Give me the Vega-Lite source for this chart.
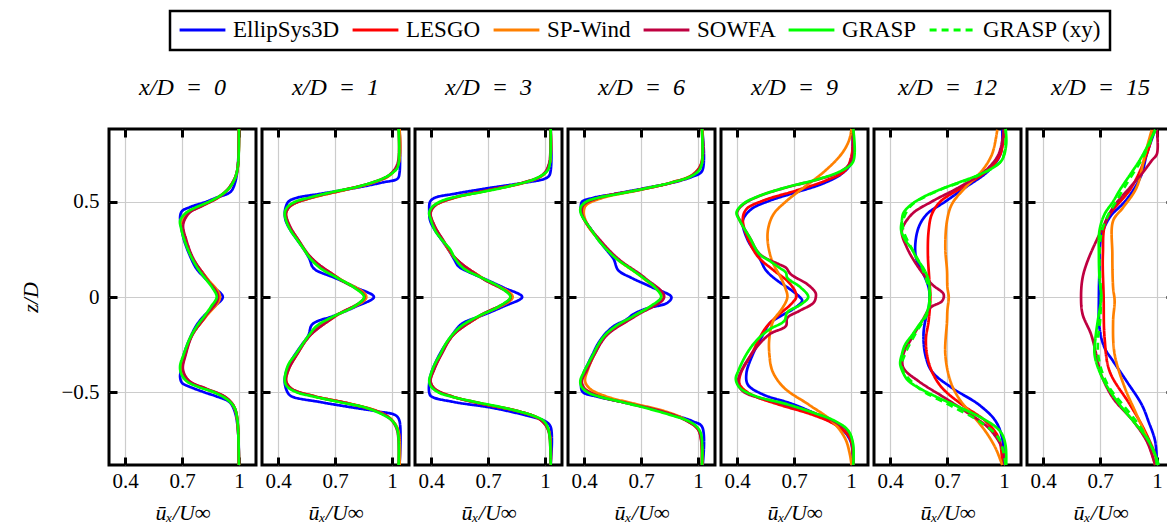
{
"$schema":"https://vega.github.io/schema/vega-lite/v6.json",
"background":"white",
"padding":{"left":18,"top":9,"right":0,"bottom":0},
"config":{
 "font":"Liberation Serif",
 "view":{"stroke":"black","strokeWidth":3},
 "axis":{"labelFont":"Liberation Serif","labelFontSize":21,"labelColor":"black","titleFont":"Liberation Serif","titleFontSize":22,"titleFontStyle":"italic","titleFontWeight":"normal","titleColor":"black","gridColor":"#cccccc","gridWidth":1.2,"domain":false,"tickColor":"black","tickWidth":3,"tickSize":-8,"labelPadding":18},
 "title":{"font":"Liberation Serif","fontSize":24,"fontStyle":"italic","fontWeight":"normal","color":"black","anchor":"middle","offset":24,"baseline":"alphabetic"},
 "legend":{"labelFont":"Liberation Serif","labelFontSize":23,"labelColor":"black"}
},
"spacing":0,
"resolve":{"scale":{"color":"shared","strokeDash":"shared"}},
"data":{"values":[
{"p":0,"m":"E","z":0.88,"u":1},{"p":0,"m":"E","z":0.7,"u":0.995},{"p":0,"m":"E","z":0.6,"u":0.98},{"p":0,"m":"E","z":0.55,"u":0.955},{"p":0,"m":"E","z":0.52,"u":0.88},{"p":0,"m":"E","z":0.5,"u":0.83},{"p":0,"m":"E","z":0.47,"u":0.74},{"p":0,"m":"E","z":0.45,"u":0.7},{"p":0,"m":"E","z":0.42,"u":0.69},{"p":0,"m":"E","z":0.36,"u":0.697},{"p":0,"m":"E","z":0.3,"u":0.71},{"p":0,"m":"E","z":0.22,"u":0.74},{"p":0,"m":"E","z":0.15,"u":0.775},{"p":0,"m":"E","z":0.1,"u":0.82},{"p":0,"m":"E","z":0.05,"u":0.87},{"p":0,"m":"E","z":0,"u":0.915},{"p":0,"m":"E","z":-0.05,"u":0.87},{"p":0,"m":"E","z":-0.1,"u":0.815},{"p":0,"m":"E","z":-0.15,"u":0.775},{"p":0,"m":"E","z":-0.22,"u":0.74},{"p":0,"m":"E","z":-0.3,"u":0.71},{"p":0,"m":"E","z":-0.38,"u":0.695},{"p":0,"m":"E","z":-0.42,"u":0.69},{"p":0,"m":"E","z":-0.45,"u":0.7},{"p":0,"m":"E","z":-0.47,"u":0.74},{"p":0,"m":"E","z":-0.5,"u":0.82},{"p":0,"m":"E","z":-0.52,"u":0.88},{"p":0,"m":"E","z":-0.55,"u":0.95},{"p":0,"m":"E","z":-0.6,"u":0.978},{"p":0,"m":"E","z":-0.7,"u":0.995},{"p":0,"m":"E","z":-0.88,"u":1},
{"p":0,"m":"L","z":0.88,"u":1},{"p":0,"m":"L","z":0.7,"u":0.996},{"p":0,"m":"L","z":0.64,"u":0.986},{"p":0,"m":"L","z":0.6,"u":0.968},{"p":0,"m":"L","z":0.56,"u":0.94},{"p":0,"m":"L","z":0.52,"u":0.89},{"p":0,"m":"L","z":0.48,"u":0.81},{"p":0,"m":"L","z":0.44,"u":0.735},{"p":0,"m":"L","z":0.38,"u":0.703},{"p":0,"m":"L","z":0.3,"u":0.72},{"p":0,"m":"L","z":0.2,"u":0.758},{"p":0,"m":"L","z":0.1,"u":0.828},{"p":0,"m":"L","z":0,"u":0.895},{"p":0,"m":"L","z":-0.1,"u":0.826},{"p":0,"m":"L","z":-0.2,"u":0.752},{"p":0,"m":"L","z":-0.3,"u":0.717},{"p":0,"m":"L","z":-0.38,"u":0.702},{"p":0,"m":"L","z":-0.44,"u":0.735},{"p":0,"m":"L","z":-0.48,"u":0.825},{"p":0,"m":"L","z":-0.52,"u":0.92},{"p":0,"m":"L","z":-0.56,"u":0.965},{"p":0,"m":"L","z":-0.6,"u":0.984},{"p":0,"m":"L","z":-0.64,"u":0.991},{"p":0,"m":"L","z":-0.7,"u":0.996},{"p":0,"m":"L","z":-0.88,"u":1},
{"p":0,"m":"S","z":0.88,"u":1},{"p":0,"m":"S","z":0.7,"u":0.996},{"p":0,"m":"S","z":0.64,"u":0.986},{"p":0,"m":"S","z":0.6,"u":0.967},{"p":0,"m":"S","z":0.56,"u":0.938},{"p":0,"m":"S","z":0.52,"u":0.886},{"p":0,"m":"S","z":0.48,"u":0.805},{"p":0,"m":"S","z":0.44,"u":0.73},{"p":0,"m":"S","z":0.38,"u":0.7},{"p":0,"m":"S","z":0.3,"u":0.718},{"p":0,"m":"S","z":0.2,"u":0.756},{"p":0,"m":"S","z":0.1,"u":0.83},{"p":0,"m":"S","z":0,"u":0.9},{"p":0,"m":"S","z":-0.1,"u":0.828},{"p":0,"m":"S","z":-0.2,"u":0.752},{"p":0,"m":"S","z":-0.3,"u":0.715},{"p":0,"m":"S","z":-0.38,"u":0.7},{"p":0,"m":"S","z":-0.44,"u":0.73},{"p":0,"m":"S","z":-0.48,"u":0.82},{"p":0,"m":"S","z":-0.52,"u":0.918},{"p":0,"m":"S","z":-0.56,"u":0.964},{"p":0,"m":"S","z":-0.6,"u":0.983},{"p":0,"m":"S","z":-0.64,"u":0.99},{"p":0,"m":"S","z":-0.7,"u":0.996},{"p":0,"m":"S","z":-0.88,"u":1},
{"p":0,"m":"W","z":0.88,"u":1},{"p":0,"m":"W","z":0.7,"u":0.996},{"p":0,"m":"W","z":0.64,"u":0.985},{"p":0,"m":"W","z":0.6,"u":0.966},{"p":0,"m":"W","z":0.56,"u":0.937},{"p":0,"m":"W","z":0.52,"u":0.888},{"p":0,"m":"W","z":0.48,"u":0.812},{"p":0,"m":"W","z":0.44,"u":0.738},{"p":0,"m":"W","z":0.38,"u":0.706},{"p":0,"m":"W","z":0.3,"u":0.722},{"p":0,"m":"W","z":0.2,"u":0.76},{"p":0,"m":"W","z":0.1,"u":0.826},{"p":0,"m":"W","z":0,"u":0.89},{"p":0,"m":"W","z":-0.1,"u":0.824},{"p":0,"m":"W","z":-0.2,"u":0.754},{"p":0,"m":"W","z":-0.3,"u":0.72},{"p":0,"m":"W","z":-0.38,"u":0.705},{"p":0,"m":"W","z":-0.44,"u":0.738},{"p":0,"m":"W","z":-0.48,"u":0.828},{"p":0,"m":"W","z":-0.52,"u":0.922},{"p":0,"m":"W","z":-0.56,"u":0.966},{"p":0,"m":"W","z":-0.6,"u":0.984},{"p":0,"m":"W","z":-0.64,"u":0.991},{"p":0,"m":"W","z":-0.7,"u":0.996},{"p":0,"m":"W","z":-0.88,"u":1},
{"p":0,"m":"G","z":0.88,"u":1},{"p":0,"m":"G","z":0.7,"u":0.996},{"p":0,"m":"G","z":0.63,"u":0.982},{"p":0,"m":"G","z":0.58,"u":0.956},{"p":0,"m":"G","z":0.54,"u":0.915},{"p":0,"m":"G","z":0.5,"u":0.845},{"p":0,"m":"G","z":0.47,"u":0.774},{"p":0,"m":"G","z":0.44,"u":0.72},{"p":0,"m":"G","z":0.4,"u":0.69},{"p":0,"m":"G","z":0.36,"u":0.695},{"p":0,"m":"G","z":0.3,"u":0.712},{"p":0,"m":"G","z":0.22,"u":0.744},{"p":0,"m":"G","z":0.15,"u":0.783},{"p":0,"m":"G","z":0.1,"u":0.82},{"p":0,"m":"G","z":0.05,"u":0.859},{"p":0,"m":"G","z":0,"u":0.883},{"p":0,"m":"G","z":-0.05,"u":0.853},{"p":0,"m":"G","z":-0.1,"u":0.818},{"p":0,"m":"G","z":-0.15,"u":0.78},{"p":0,"m":"G","z":-0.22,"u":0.74},{"p":0,"m":"G","z":-0.3,"u":0.709},{"p":0,"m":"G","z":-0.36,"u":0.69},{"p":0,"m":"G","z":-0.4,"u":0.695},{"p":0,"m":"G","z":-0.44,"u":0.723},{"p":0,"m":"G","z":-0.47,"u":0.783},{"p":0,"m":"G","z":-0.5,"u":0.871},{"p":0,"m":"G","z":-0.54,"u":0.942},{"p":0,"m":"G","z":-0.58,"u":0.977},{"p":0,"m":"G","z":-0.63,"u":0.99},{"p":0,"m":"G","z":-0.7,"u":0.996},{"p":0,"m":"G","z":-0.88,"u":1},

{"p":1,"m":"E","z":0.88,"u":1.04},{"p":1,"m":"E","z":0.65,"u":1.04},{"p":1,"m":"E","z":0.62,"u":1.03},{"p":1,"m":"E","z":0.6,"u":0.95},{"p":1,"m":"E","z":0.57,"u":0.8},{"p":1,"m":"E","z":0.54,"u":0.62},{"p":1,"m":"E","z":0.52,"u":0.5},{"p":1,"m":"E","z":0.5,"u":0.455},{"p":1,"m":"E","z":0.47,"u":0.44},{"p":1,"m":"E","z":0.44,"u":0.435},{"p":1,"m":"E","z":0.4,"u":0.44},{"p":1,"m":"E","z":0.35,"u":0.465},{"p":1,"m":"E","z":0.3,"u":0.5},{"p":1,"m":"E","z":0.25,"u":0.535},{"p":1,"m":"E","z":0.2,"u":0.565},{"p":1,"m":"E","z":0.16,"u":0.58},{"p":1,"m":"E","z":0.14,"u":0.6},{"p":1,"m":"E","z":0.1,"u":0.7},{"p":1,"m":"E","z":0.05,"u":0.81},{"p":1,"m":"E","z":0,"u":0.905},{"p":1,"m":"E","z":-0.05,"u":0.81},{"p":1,"m":"E","z":-0.1,"u":0.69},{"p":1,"m":"E","z":-0.13,"u":0.6},{"p":1,"m":"E","z":-0.15,"u":0.575},{"p":1,"m":"E","z":-0.2,"u":0.56},{"p":1,"m":"E","z":-0.25,"u":0.525},{"p":1,"m":"E","z":-0.3,"u":0.49},{"p":1,"m":"E","z":-0.35,"u":0.46},{"p":1,"m":"E","z":-0.4,"u":0.44},{"p":1,"m":"E","z":-0.45,"u":0.435},{"p":1,"m":"E","z":-0.5,"u":0.45},{"p":1,"m":"E","z":-0.52,"u":0.47},{"p":1,"m":"E","z":-0.55,"u":0.62},{"p":1,"m":"E","z":-0.58,"u":0.8},{"p":1,"m":"E","z":-0.6,"u":0.93},{"p":1,"m":"E","z":-0.62,"u":1.02},{"p":1,"m":"E","z":-0.65,"u":1.04},{"p":1,"m":"E","z":-0.88,"u":1.04},
{"p":1,"m":"L","z":0.88,"u":1.04},{"p":1,"m":"L","z":0.7,"u":1.035},{"p":1,"m":"L","z":0.64,"u":0.99},{"p":1,"m":"L","z":0.6,"u":0.9},{"p":1,"m":"L","z":0.56,"u":0.745},{"p":1,"m":"L","z":0.52,"u":0.575},{"p":1,"m":"L","z":0.48,"u":0.468},{"p":1,"m":"L","z":0.44,"u":0.44},{"p":1,"m":"L","z":0.38,"u":0.455},{"p":1,"m":"L","z":0.3,"u":0.505},{"p":1,"m":"L","z":0.2,"u":0.578},{"p":1,"m":"L","z":0.1,"u":0.716},{"p":1,"m":"L","z":0,"u":0.86},{"p":1,"m":"L","z":-0.1,"u":0.7},{"p":1,"m":"L","z":-0.2,"u":0.568},{"p":1,"m":"L","z":-0.3,"u":0.498},{"p":1,"m":"L","z":-0.38,"u":0.452},{"p":1,"m":"L","z":-0.44,"u":0.44},{"p":1,"m":"L","z":-0.48,"u":0.468},{"p":1,"m":"L","z":-0.52,"u":0.59},{"p":1,"m":"L","z":-0.56,"u":0.78},{"p":1,"m":"L","z":-0.6,"u":0.925},{"p":1,"m":"L","z":-0.64,"u":0.995},{"p":1,"m":"L","z":-0.7,"u":1.033},{"p":1,"m":"L","z":-0.88,"u":1.04},
{"p":1,"m":"S","z":0.88,"u":1.04},{"p":1,"m":"S","z":0.7,"u":1.035},{"p":1,"m":"S","z":0.64,"u":0.992},{"p":1,"m":"S","z":0.6,"u":0.905},{"p":1,"m":"S","z":0.56,"u":0.75},{"p":1,"m":"S","z":0.52,"u":0.578},{"p":1,"m":"S","z":0.48,"u":0.47},{"p":1,"m":"S","z":0.44,"u":0.442},{"p":1,"m":"S","z":0.38,"u":0.456},{"p":1,"m":"S","z":0.3,"u":0.504},{"p":1,"m":"S","z":0.2,"u":0.576},{"p":1,"m":"S","z":0.1,"u":0.716},{"p":1,"m":"S","z":0,"u":0.865},{"p":1,"m":"S","z":-0.1,"u":0.703},{"p":1,"m":"S","z":-0.2,"u":0.568},{"p":1,"m":"S","z":-0.3,"u":0.5},{"p":1,"m":"S","z":-0.38,"u":0.455},{"p":1,"m":"S","z":-0.44,"u":0.443},{"p":1,"m":"S","z":-0.48,"u":0.47},{"p":1,"m":"S","z":-0.52,"u":0.595},{"p":1,"m":"S","z":-0.56,"u":0.785},{"p":1,"m":"S","z":-0.6,"u":0.928},{"p":1,"m":"S","z":-0.64,"u":0.995},{"p":1,"m":"S","z":-0.7,"u":1.033},{"p":1,"m":"S","z":-0.88,"u":1.04},
{"p":1,"m":"W","z":0.88,"u":1.035},{"p":1,"m":"W","z":0.7,"u":1.03},{"p":1,"m":"W","z":0.64,"u":0.988},{"p":1,"m":"W","z":0.6,"u":0.898},{"p":1,"m":"W","z":0.56,"u":0.742},{"p":1,"m":"W","z":0.52,"u":0.572},{"p":1,"m":"W","z":0.48,"u":0.468},{"p":1,"m":"W","z":0.44,"u":0.442},{"p":1,"m":"W","z":0.38,"u":0.458},{"p":1,"m":"W","z":0.3,"u":0.506},{"p":1,"m":"W","z":0.2,"u":0.58},{"p":1,"m":"W","z":0.1,"u":0.714},{"p":1,"m":"W","z":0,"u":0.855},{"p":1,"m":"W","z":-0.1,"u":0.702},{"p":1,"m":"W","z":-0.2,"u":0.57},{"p":1,"m":"W","z":-0.3,"u":0.5},{"p":1,"m":"W","z":-0.38,"u":0.455},{"p":1,"m":"W","z":-0.44,"u":0.442},{"p":1,"m":"W","z":-0.48,"u":0.47},{"p":1,"m":"W","z":-0.52,"u":0.592},{"p":1,"m":"W","z":-0.56,"u":0.78},{"p":1,"m":"W","z":-0.6,"u":0.924},{"p":1,"m":"W","z":-0.64,"u":0.993},{"p":1,"m":"W","z":-0.7,"u":1.028},{"p":1,"m":"W","z":-0.88,"u":1.035},
{"p":1,"m":"G","z":0.88,"u":1.035},{"p":1,"m":"G","z":0.75,"u":1.038},{"p":1,"m":"G","z":0.68,"u":1.03},{"p":1,"m":"G","z":0.65,"u":1.003},{"p":1,"m":"G","z":0.62,"u":0.95},{"p":1,"m":"G","z":0.58,"u":0.827},{"p":1,"m":"G","z":0.55,"u":0.686},{"p":1,"m":"G","z":0.52,"u":0.562},{"p":1,"m":"G","z":0.5,"u":0.492},{"p":1,"m":"G","z":0.47,"u":0.448},{"p":1,"m":"G","z":0.44,"u":0.435},{"p":1,"m":"G","z":0.4,"u":0.442},{"p":1,"m":"G","z":0.35,"u":0.465},{"p":1,"m":"G","z":0.3,"u":0.5},{"p":1,"m":"G","z":0.25,"u":0.536},{"p":1,"m":"G","z":0.2,"u":0.571},{"p":1,"m":"G","z":0.15,"u":0.624},{"p":1,"m":"G","z":0.1,"u":0.712},{"p":1,"m":"G","z":0.05,"u":0.8},{"p":1,"m":"G","z":0,"u":0.853},{"p":1,"m":"G","z":-0.05,"u":0.8},{"p":1,"m":"G","z":-0.1,"u":0.695},{"p":1,"m":"G","z":-0.15,"u":0.606},{"p":1,"m":"G","z":-0.2,"u":0.562},{"p":1,"m":"G","z":-0.25,"u":0.527},{"p":1,"m":"G","z":-0.3,"u":0.492},{"p":1,"m":"G","z":-0.35,"u":0.456},{"p":1,"m":"G","z":-0.4,"u":0.439},{"p":1,"m":"G","z":-0.44,"u":0.435},{"p":1,"m":"G","z":-0.47,"u":0.448},{"p":1,"m":"G","z":-0.5,"u":0.5},{"p":1,"m":"G","z":-0.52,"u":0.58},{"p":1,"m":"G","z":-0.55,"u":0.72},{"p":1,"m":"G","z":-0.58,"u":0.862},{"p":1,"m":"G","z":-0.62,"u":0.959},{"p":1,"m":"G","z":-0.65,"u":1.003},{"p":1,"m":"G","z":-0.7,"u":1.03},{"p":1,"m":"G","z":-0.88,"u":1.035},

{"p":3,"m":"E","z":0.88,"u":1.03},{"p":3,"m":"E","z":0.64,"u":1.025},{"p":3,"m":"E","z":0.62,"u":1.0},{"p":3,"m":"E","z":0.6,"u":0.9},{"p":3,"m":"E","z":0.57,"u":0.7},{"p":3,"m":"E","z":0.54,"u":0.52},{"p":3,"m":"E","z":0.52,"u":0.42},{"p":3,"m":"E","z":0.5,"u":0.395},{"p":3,"m":"E","z":0.45,"u":0.39},{"p":3,"m":"E","z":0.4,"u":0.395},{"p":3,"m":"E","z":0.35,"u":0.42},{"p":3,"m":"E","z":0.3,"u":0.455},{"p":3,"m":"E","z":0.25,"u":0.49},{"p":3,"m":"E","z":0.2,"u":0.52},{"p":3,"m":"E","z":0.16,"u":0.545},{"p":3,"m":"E","z":0.13,"u":0.6},{"p":3,"m":"E","z":0.1,"u":0.67},{"p":3,"m":"E","z":0.05,"u":0.78},{"p":3,"m":"E","z":0,"u":0.88},{"p":3,"m":"E","z":-0.05,"u":0.78},{"p":3,"m":"E","z":-0.1,"u":0.66},{"p":3,"m":"E","z":-0.13,"u":0.58},{"p":3,"m":"E","z":-0.15,"u":0.55},{"p":3,"m":"E","z":-0.2,"u":0.51},{"p":3,"m":"E","z":-0.25,"u":0.475},{"p":3,"m":"E","z":-0.3,"u":0.445},{"p":3,"m":"E","z":-0.35,"u":0.42},{"p":3,"m":"E","z":-0.4,"u":0.4},{"p":3,"m":"E","z":-0.45,"u":0.39},{"p":3,"m":"E","z":-0.5,"u":0.39},{"p":3,"m":"E","z":-0.52,"u":0.4},{"p":3,"m":"E","z":-0.55,"u":0.52},{"p":3,"m":"E","z":-0.58,"u":0.72},{"p":3,"m":"E","z":-0.62,"u":0.9},{"p":3,"m":"E","z":-0.65,"u":1.0},{"p":3,"m":"E","z":-0.68,"u":1.03},{"p":3,"m":"E","z":-0.88,"u":1.03},
{"p":3,"m":"L","z":0.88,"u":1.03},{"p":3,"m":"L","z":0.7,"u":1.025},{"p":3,"m":"L","z":0.64,"u":0.99},{"p":3,"m":"L","z":0.6,"u":0.89},{"p":3,"m":"L","z":0.56,"u":0.705},{"p":3,"m":"L","z":0.52,"u":0.52},{"p":3,"m":"L","z":0.48,"u":0.42},{"p":3,"m":"L","z":0.44,"u":0.395},{"p":3,"m":"L","z":0.38,"u":0.413},{"p":3,"m":"L","z":0.3,"u":0.46},{"p":3,"m":"L","z":0.2,"u":0.53},{"p":3,"m":"L","z":0.1,"u":0.668},{"p":3,"m":"L","z":0,"u":0.825},{"p":3,"m":"L","z":-0.1,"u":0.655},{"p":3,"m":"L","z":-0.2,"u":0.514},{"p":3,"m":"L","z":-0.3,"u":0.452},{"p":3,"m":"L","z":-0.38,"u":0.414},{"p":3,"m":"L","z":-0.44,"u":0.395},{"p":3,"m":"L","z":-0.48,"u":0.415},{"p":3,"m":"L","z":-0.52,"u":0.505},{"p":3,"m":"L","z":-0.56,"u":0.67},{"p":3,"m":"L","z":-0.6,"u":0.865},{"p":3,"m":"L","z":-0.64,"u":0.972},{"p":3,"m":"L","z":-0.7,"u":1.02},{"p":3,"m":"L","z":-0.88,"u":1.03},
{"p":3,"m":"S","z":0.88,"u":1.03},{"p":3,"m":"S","z":0.7,"u":1.025},{"p":3,"m":"S","z":0.64,"u":0.992},{"p":3,"m":"S","z":0.6,"u":0.895},{"p":3,"m":"S","z":0.56,"u":0.71},{"p":3,"m":"S","z":0.52,"u":0.525},{"p":3,"m":"S","z":0.48,"u":0.423},{"p":3,"m":"S","z":0.44,"u":0.397},{"p":3,"m":"S","z":0.38,"u":0.413},{"p":3,"m":"S","z":0.3,"u":0.46},{"p":3,"m":"S","z":0.2,"u":0.53},{"p":3,"m":"S","z":0.1,"u":0.67},{"p":3,"m":"S","z":0,"u":0.83},{"p":3,"m":"S","z":-0.1,"u":0.657},{"p":3,"m":"S","z":-0.2,"u":0.515},{"p":3,"m":"S","z":-0.3,"u":0.452},{"p":3,"m":"S","z":-0.38,"u":0.414},{"p":3,"m":"S","z":-0.44,"u":0.397},{"p":3,"m":"S","z":-0.48,"u":0.418},{"p":3,"m":"S","z":-0.52,"u":0.51},{"p":3,"m":"S","z":-0.56,"u":0.675},{"p":3,"m":"S","z":-0.6,"u":0.868},{"p":3,"m":"S","z":-0.64,"u":0.973},{"p":3,"m":"S","z":-0.7,"u":1.02},{"p":3,"m":"S","z":-0.88,"u":1.03},
{"p":3,"m":"W","z":0.88,"u":1.028},{"p":3,"m":"W","z":0.7,"u":1.022},{"p":3,"m":"W","z":0.64,"u":0.988},{"p":3,"m":"W","z":0.6,"u":0.888},{"p":3,"m":"W","z":0.56,"u":0.703},{"p":3,"m":"W","z":0.52,"u":0.52},{"p":3,"m":"W","z":0.48,"u":0.422},{"p":3,"m":"W","z":0.44,"u":0.397},{"p":3,"m":"W","z":0.38,"u":0.415},{"p":3,"m":"W","z":0.3,"u":0.462},{"p":3,"m":"W","z":0.2,"u":0.532},{"p":3,"m":"W","z":0.1,"u":0.666},{"p":3,"m":"W","z":0,"u":0.82},{"p":3,"m":"W","z":-0.1,"u":0.654},{"p":3,"m":"W","z":-0.2,"u":0.516},{"p":3,"m":"W","z":-0.3,"u":0.455},{"p":3,"m":"W","z":-0.38,"u":0.416},{"p":3,"m":"W","z":-0.44,"u":0.397},{"p":3,"m":"W","z":-0.48,"u":0.418},{"p":3,"m":"W","z":-0.52,"u":0.508},{"p":3,"m":"W","z":-0.56,"u":0.672},{"p":3,"m":"W","z":-0.6,"u":0.866},{"p":3,"m":"W","z":-0.64,"u":0.972},{"p":3,"m":"W","z":-0.7,"u":1.018},{"p":3,"m":"W","z":-0.88,"u":1.028},
{"p":3,"m":"G","z":0.88,"u":1.03},{"p":3,"m":"G","z":0.7,"u":1.026},{"p":3,"m":"G","z":0.66,"u":1.012},{"p":3,"m":"G","z":0.62,"u":0.95},{"p":3,"m":"G","z":0.58,"u":0.81},{"p":3,"m":"G","z":0.55,"u":0.668},{"p":3,"m":"G","z":0.52,"u":0.51},{"p":3,"m":"G","z":0.5,"u":0.448},{"p":3,"m":"G","z":0.47,"u":0.404},{"p":3,"m":"G","z":0.44,"u":0.39},{"p":3,"m":"G","z":0.4,"u":0.4},{"p":3,"m":"G","z":0.35,"u":0.42},{"p":3,"m":"G","z":0.3,"u":0.456},{"p":3,"m":"G","z":0.25,"u":0.5},{"p":3,"m":"G","z":0.2,"u":0.527},{"p":3,"m":"G","z":0.15,"u":0.571},{"p":3,"m":"G","z":0.1,"u":0.668},{"p":3,"m":"G","z":0.05,"u":0.765},{"p":3,"m":"G","z":0,"u":0.818},{"p":3,"m":"G","z":-0.05,"u":0.756},{"p":3,"m":"G","z":-0.1,"u":0.65},{"p":3,"m":"G","z":-0.15,"u":0.562},{"p":3,"m":"G","z":-0.2,"u":0.51},{"p":3,"m":"G","z":-0.25,"u":0.474},{"p":3,"m":"G","z":-0.3,"u":0.448},{"p":3,"m":"G","z":-0.35,"u":0.42},{"p":3,"m":"G","z":-0.4,"u":0.4},{"p":3,"m":"G","z":-0.44,"u":0.39},{"p":3,"m":"G","z":-0.47,"u":0.4},{"p":3,"m":"G","z":-0.5,"u":0.439},{"p":3,"m":"G","z":-0.52,"u":0.5},{"p":3,"m":"G","z":-0.55,"u":0.633},{"p":3,"m":"G","z":-0.58,"u":0.783},{"p":3,"m":"G","z":-0.62,"u":0.933},{"p":3,"m":"G","z":-0.65,"u":0.994},{"p":3,"m":"G","z":-0.7,"u":1.02},{"p":3,"m":"G","z":-0.88,"u":1.03},

{"p":6,"m":"E","z":0.88,"u":1.022},{"p":6,"m":"E","z":0.66,"u":1.022},{"p":6,"m":"E","z":0.63,"u":0.97},{"p":6,"m":"E","z":0.6,"u":0.87},{"p":6,"m":"E","z":0.57,"u":0.72},{"p":6,"m":"E","z":0.54,"u":0.56},{"p":6,"m":"E","z":0.52,"u":0.45},{"p":6,"m":"E","z":0.5,"u":0.39},{"p":6,"m":"E","z":0.48,"u":0.383},{"p":6,"m":"E","z":0.44,"u":0.385},{"p":6,"m":"E","z":0.4,"u":0.405},{"p":6,"m":"E","z":0.35,"u":0.44},{"p":6,"m":"E","z":0.3,"u":0.475},{"p":6,"m":"E","z":0.25,"u":0.515},{"p":6,"m":"E","z":0.2,"u":0.555},{"p":6,"m":"E","z":0.14,"u":0.58},{"p":6,"m":"E","z":0.1,"u":0.65},{"p":6,"m":"E","z":0.05,"u":0.76},{"p":6,"m":"E","z":0,"u":0.86},{"p":6,"m":"E","z":-0.03,"u":0.84},{"p":6,"m":"E","z":-0.06,"u":0.73},{"p":6,"m":"E","z":-0.09,"u":0.66},{"p":6,"m":"E","z":-0.12,"u":0.62},{"p":6,"m":"E","z":-0.15,"u":0.56},{"p":6,"m":"E","z":-0.2,"u":0.505},{"p":6,"m":"E","z":-0.25,"u":0.47},{"p":6,"m":"E","z":-0.3,"u":0.445},{"p":6,"m":"E","z":-0.35,"u":0.42},{"p":6,"m":"E","z":-0.4,"u":0.397},{"p":6,"m":"E","z":-0.45,"u":0.385},{"p":6,"m":"E","z":-0.48,"u":0.385},{"p":6,"m":"E","z":-0.5,"u":0.395},{"p":6,"m":"E","z":-0.52,"u":0.46},{"p":6,"m":"E","z":-0.55,"u":0.6},{"p":6,"m":"E","z":-0.58,"u":0.74},{"p":6,"m":"E","z":-0.62,"u":0.88},{"p":6,"m":"E","z":-0.65,"u":0.97},{"p":6,"m":"E","z":-0.68,"u":1.022},{"p":6,"m":"E","z":-0.88,"u":1.025},
{"p":6,"m":"L","z":0.88,"u":1.022},{"p":6,"m":"L","z":0.7,"u":1.02},{"p":6,"m":"L","z":0.64,"u":0.975},{"p":6,"m":"L","z":0.6,"u":0.865},{"p":6,"m":"L","z":0.56,"u":0.685},{"p":6,"m":"L","z":0.52,"u":0.48},{"p":6,"m":"L","z":0.48,"u":0.395},{"p":6,"m":"L","z":0.44,"u":0.387},{"p":6,"m":"L","z":0.38,"u":0.415},{"p":6,"m":"L","z":0.3,"u":0.478},{"p":6,"m":"L","z":0.2,"u":0.575},{"p":6,"m":"L","z":0.1,"u":0.715},{"p":6,"m":"L","z":0,"u":0.815},{"p":6,"m":"L","z":-0.1,"u":0.665},{"p":6,"m":"L","z":-0.2,"u":0.515},{"p":6,"m":"L","z":-0.3,"u":0.452},{"p":6,"m":"L","z":-0.38,"u":0.413},{"p":6,"m":"L","z":-0.44,"u":0.386},{"p":6,"m":"L","z":-0.48,"u":0.402},{"p":6,"m":"L","z":-0.52,"u":0.482},{"p":6,"m":"L","z":-0.56,"u":0.648},{"p":6,"m":"L","z":-0.6,"u":0.815},{"p":6,"m":"L","z":-0.64,"u":0.925},{"p":6,"m":"L","z":-0.7,"u":1.005},{"p":6,"m":"L","z":-0.88,"u":1.022},
{"p":6,"m":"S","z":0.88,"u":1.022},{"p":6,"m":"S","z":0.7,"u":1.018},{"p":6,"m":"S","z":0.64,"u":0.97},{"p":6,"m":"S","z":0.6,"u":0.86},{"p":6,"m":"S","z":0.56,"u":0.69},{"p":6,"m":"S","z":0.52,"u":0.5},{"p":6,"m":"S","z":0.48,"u":0.41},{"p":6,"m":"S","z":0.44,"u":0.398},{"p":6,"m":"S","z":0.38,"u":0.418},{"p":6,"m":"S","z":0.3,"u":0.478},{"p":6,"m":"S","z":0.2,"u":0.572},{"p":6,"m":"S","z":0.1,"u":0.71},{"p":6,"m":"S","z":0,"u":0.81},{"p":6,"m":"S","z":-0.1,"u":0.662},{"p":6,"m":"S","z":-0.2,"u":0.515},{"p":6,"m":"S","z":-0.3,"u":0.455},{"p":6,"m":"S","z":-0.38,"u":0.42},{"p":6,"m":"S","z":-0.44,"u":0.405},{"p":6,"m":"S","z":-0.48,"u":0.43},{"p":6,"m":"S","z":-0.52,"u":0.515},{"p":6,"m":"S","z":-0.56,"u":0.67},{"p":6,"m":"S","z":-0.6,"u":0.83},{"p":6,"m":"S","z":-0.64,"u":0.93},{"p":6,"m":"S","z":-0.7,"u":1.005},{"p":6,"m":"S","z":-0.88,"u":1.022},
{"p":6,"m":"W","z":0.88,"u":1.02},{"p":6,"m":"W","z":0.7,"u":1.018},{"p":6,"m":"W","z":0.64,"u":0.973},{"p":6,"m":"W","z":0.6,"u":0.862},{"p":6,"m":"W","z":0.56,"u":0.682},{"p":6,"m":"W","z":0.52,"u":0.478},{"p":6,"m":"W","z":0.48,"u":0.395},{"p":6,"m":"W","z":0.44,"u":0.388},{"p":6,"m":"W","z":0.38,"u":0.418},{"p":6,"m":"W","z":0.3,"u":0.482},{"p":6,"m":"W","z":0.2,"u":0.58},{"p":6,"m":"W","z":0.1,"u":0.72},{"p":6,"m":"W","z":0,"u":0.822},{"p":6,"m":"W","z":-0.1,"u":0.67},{"p":6,"m":"W","z":-0.2,"u":0.52},{"p":6,"m":"W","z":-0.3,"u":0.455},{"p":6,"m":"W","z":-0.38,"u":0.416},{"p":6,"m":"W","z":-0.44,"u":0.388},{"p":6,"m":"W","z":-0.48,"u":0.402},{"p":6,"m":"W","z":-0.52,"u":0.48},{"p":6,"m":"W","z":-0.56,"u":0.646},{"p":6,"m":"W","z":-0.6,"u":0.814},{"p":6,"m":"W","z":-0.64,"u":0.924},{"p":6,"m":"W","z":-0.7,"u":1.004},{"p":6,"m":"W","z":-0.88,"u":1.02},
{"p":6,"m":"G","z":0.88,"u":1.021},{"p":6,"m":"G","z":0.7,"u":1.021},{"p":6,"m":"G","z":0.66,"u":1.003},{"p":6,"m":"G","z":0.63,"u":0.959},{"p":6,"m":"G","z":0.6,"u":0.862},{"p":6,"m":"G","z":0.57,"u":0.73},{"p":6,"m":"G","z":0.54,"u":0.58},{"p":6,"m":"G","z":0.52,"u":0.474},{"p":6,"m":"G","z":0.5,"u":0.412},{"p":6,"m":"G","z":0.47,"u":0.382},{"p":6,"m":"G","z":0.44,"u":0.382},{"p":6,"m":"G","z":0.4,"u":0.404},{"p":6,"m":"G","z":0.35,"u":0.439},{"p":6,"m":"G","z":0.3,"u":0.474},{"p":6,"m":"G","z":0.25,"u":0.518},{"p":6,"m":"G","z":0.2,"u":0.571},{"p":6,"m":"G","z":0.15,"u":0.642},{"p":6,"m":"G","z":0.1,"u":0.712},{"p":6,"m":"G","z":0.05,"u":0.774},{"p":6,"m":"G","z":0,"u":0.806},{"p":6,"m":"G","z":-0.05,"u":0.747},{"p":6,"m":"G","z":-0.1,"u":0.66},{"p":6,"m":"G","z":-0.15,"u":0.571},{"p":6,"m":"G","z":-0.2,"u":0.51},{"p":6,"m":"G","z":-0.25,"u":0.474},{"p":6,"m":"G","z":-0.3,"u":0.448},{"p":6,"m":"G","z":-0.35,"u":0.421},{"p":6,"m":"G","z":-0.4,"u":0.395},{"p":6,"m":"G","z":-0.44,"u":0.38},{"p":6,"m":"G","z":-0.47,"u":0.386},{"p":6,"m":"G","z":-0.5,"u":0.42},{"p":6,"m":"G","z":-0.52,"u":0.474},{"p":6,"m":"G","z":-0.55,"u":0.598},{"p":6,"m":"G","z":-0.58,"u":0.72},{"p":6,"m":"G","z":-0.62,"u":0.862},{"p":6,"m":"G","z":-0.65,"u":0.95},{"p":6,"m":"G","z":-0.68,"u":0.994},{"p":6,"m":"G","z":-0.72,"u":1.017},{"p":6,"m":"G","z":-0.88,"u":1.021},

{"p":9,"m":"E","z":0.88,"u":1.01},{"p":9,"m":"E","z":0.78,"u":1.008},{"p":9,"m":"E","z":0.7,"u":1.0},{"p":9,"m":"E","z":0.644,"u":0.95},{"p":9,"m":"E","z":0.592,"u":0.847},{"p":9,"m":"E","z":0.548,"u":0.71},{"p":9,"m":"E","z":0.504,"u":0.57},{"p":9,"m":"E","z":0.46,"u":0.475},{"p":9,"m":"E","z":0.4,"u":0.43},{"p":9,"m":"E","z":0.3,"u":0.455},{"p":9,"m":"E","z":0.2,"u":0.52},{"p":9,"m":"E","z":0.15,"u":0.545},{"p":9,"m":"E","z":0.12,"u":0.57},{"p":9,"m":"E","z":0.08,"u":0.62},{"p":9,"m":"E","z":0.04,"u":0.68},{"p":9,"m":"E","z":0,"u":0.73},{"p":9,"m":"E","z":-0.02,"u":0.743},{"p":9,"m":"E","z":-0.06,"u":0.7},{"p":9,"m":"E","z":-0.1,"u":0.63},{"p":9,"m":"E","z":-0.14,"u":0.57},{"p":9,"m":"E","z":-0.2,"u":0.535},{"p":9,"m":"E","z":-0.3,"u":0.483},{"p":9,"m":"E","z":-0.4,"u":0.449},{"p":9,"m":"E","z":-0.46,"u":0.457},{"p":9,"m":"E","z":-0.51,"u":0.535},{"p":9,"m":"E","z":-0.56,"u":0.69},{"p":9,"m":"E","z":-0.62,"u":0.83},{"p":9,"m":"E","z":-0.69,"u":0.95},{"p":9,"m":"E","z":-0.76,"u":1.0},{"p":9,"m":"E","z":-0.88,"u":1.01},
{"p":9,"m":"L","z":0.88,"u":1.01},{"p":9,"m":"L","z":0.75,"u":1.005},{"p":9,"m":"L","z":0.662,"u":0.969},{"p":9,"m":"L","z":0.609,"u":0.865},{"p":9,"m":"L","z":0.557,"u":0.709},{"p":9,"m":"L","z":0.504,"u":0.535},{"p":9,"m":"L","z":0.46,"u":0.449},{"p":9,"m":"L","z":0.4,"u":0.43},{"p":9,"m":"L","z":0.224,"u":0.5},{"p":9,"m":"L","z":0.137,"u":0.596},{"p":9,"m":"L","z":0.084,"u":0.665},{"p":9,"m":"L","z":0.032,"u":0.705},{"p":9,"m":"L","z":0,"u":0.712},{"p":9,"m":"L","z":-0.039,"u":0.683},{"p":9,"m":"L","z":-0.091,"u":0.622},{"p":9,"m":"L","z":-0.161,"u":0.551},{"p":9,"m":"L","z":-0.3,"u":0.475},{"p":9,"m":"L","z":-0.406,"u":0.417},{"p":9,"m":"L","z":-0.459,"u":0.414},{"p":9,"m":"L","z":-0.511,"u":0.475},{"p":9,"m":"L","z":-0.564,"u":0.622},{"p":9,"m":"L","z":-0.616,"u":0.795},{"p":9,"m":"L","z":-0.669,"u":0.917},{"p":9,"m":"L","z":-0.74,"u":0.995},{"p":9,"m":"L","z":-0.88,"u":1.012},
{"p":9,"m":"S","z":0.88,"u":1.003},{"p":9,"m":"S","z":0.82,"u":0.99},{"p":9,"m":"S","z":0.75,"u":0.951},{"p":9,"m":"S","z":0.662,"u":0.865},{"p":9,"m":"S","z":0.574,"u":0.752},{"p":9,"m":"S","z":0.5,"u":0.657},{"p":9,"m":"S","z":0.434,"u":0.592},{"p":9,"m":"S","z":0.364,"u":0.565},{"p":9,"m":"S","z":0.294,"u":0.561},{"p":9,"m":"S","z":0.19,"u":0.584},{"p":9,"m":"S","z":0.1,"u":0.631},{"p":9,"m":"S","z":0.05,"u":0.653},{"p":9,"m":"S","z":0,"u":0.665},{"p":9,"m":"S","z":-0.056,"u":0.64},{"p":9,"m":"S","z":-0.126,"u":0.59},{"p":9,"m":"S","z":-0.214,"u":0.57},{"p":9,"m":"S","z":-0.3,"u":0.57},{"p":9,"m":"S","z":-0.39,"u":0.587},{"p":9,"m":"S","z":-0.476,"u":0.648},{"p":9,"m":"S","z":-0.564,"u":0.778},{"p":9,"m":"S","z":-0.65,"u":0.9},{"p":9,"m":"S","z":-0.74,"u":0.969},{"p":9,"m":"S","z":-0.827,"u":0.995},{"p":9,"m":"S","z":-0.88,"u":1.003},
{"p":9,"m":"W","z":0.88,"u":1.012},{"p":9,"m":"W","z":0.72,"u":1.005},{"p":9,"m":"W","z":0.662,"u":0.955},{"p":9,"m":"W","z":0.618,"u":0.835},{"p":9,"m":"W","z":0.574,"u":0.66},{"p":9,"m":"W","z":0.53,"u":0.52},{"p":9,"m":"W","z":0.487,"u":0.435},{"p":9,"m":"W","z":0.443,"u":0.4},{"p":9,"m":"W","z":0.4,"u":0.415},{"p":9,"m":"W","z":0.312,"u":0.466},{"p":9,"m":"W","z":0.224,"u":0.52},{"p":9,"m":"W","z":0.171,"u":0.622},{"p":9,"m":"W","z":0.154,"u":0.657},{"p":9,"m":"W","z":0.119,"u":0.683},{"p":9,"m":"W","z":0.067,"u":0.77},{"p":9,"m":"W","z":0.023,"u":0.813},{"p":9,"m":"W","z":0,"u":0.815},{"p":9,"m":"W","z":-0.03,"u":0.803},{"p":9,"m":"W","z":-0.074,"u":0.726},{"p":9,"m":"W","z":-0.109,"u":0.665},{"p":9,"m":"W","z":-0.152,"u":0.657},{"p":9,"m":"W","z":-0.196,"u":0.57},{"p":9,"m":"W","z":-0.3,"u":0.475},{"p":9,"m":"W","z":-0.441,"u":0.405},{"p":9,"m":"W","z":-0.494,"u":0.431},{"p":9,"m":"W","z":-0.546,"u":0.587},{"p":9,"m":"W","z":-0.599,"u":0.778},{"p":9,"m":"W","z":-0.65,"u":0.908},{"p":9,"m":"W","z":-0.72,"u":0.995},{"p":9,"m":"W","z":-0.88,"u":1.012},
{"p":9,"m":"G","z":0.88,"u":1.012},{"p":9,"m":"G","z":0.71,"u":1.012},{"p":9,"m":"G","z":0.662,"u":0.951},{"p":9,"m":"G","z":0.618,"u":0.83},{"p":9,"m":"G","z":0.574,"u":0.657},{"p":9,"m":"G","z":0.53,"u":0.518},{"p":9,"m":"G","z":0.487,"u":0.431},{"p":9,"m":"G","z":0.443,"u":0.397},{"p":9,"m":"G","z":0.4,"u":0.414},{"p":9,"m":"G","z":0.312,"u":0.466},{"p":9,"m":"G","z":0.224,"u":0.518},{"p":9,"m":"G","z":0.19,"u":0.57},{"p":9,"m":"G","z":0.154,"u":0.622},{"p":9,"m":"G","z":0.128,"u":0.657},{"p":9,"m":"G","z":0.1,"u":0.665},{"p":9,"m":"G","z":0.05,"u":0.735},{"p":9,"m":"G","z":0,"u":0.775},{"p":9,"m":"G","z":-0.04,"u":0.735},{"p":9,"m":"G","z":-0.08,"u":0.665},{"p":9,"m":"G","z":-0.126,"u":0.648},{"p":9,"m":"G","z":-0.17,"u":0.57},{"p":9,"m":"G","z":-0.23,"u":0.5},{"p":9,"m":"G","z":-0.3,"u":0.449},{"p":9,"m":"G","z":-0.39,"u":0.405},{"p":9,"m":"G","z":-0.43,"u":0.393},{"p":9,"m":"G","z":-0.476,"u":0.414},{"p":9,"m":"G","z":-0.52,"u":0.5},{"p":9,"m":"G","z":-0.56,"u":0.657},{"p":9,"m":"G","z":-0.61,"u":0.813},{"p":9,"m":"G","z":-0.65,"u":0.917},{"p":9,"m":"G","z":-0.7,"u":0.986},{"p":9,"m":"G","z":-0.774,"u":1.012},{"p":9,"m":"G","z":-0.88,"u":1.012},

{"p":12,"m":"E","z":0.876,"u":0.991},{"p":12,"m":"E","z":0.75,"u":0.982},{"p":12,"m":"E","z":0.662,"u":0.92},{"p":12,"m":"E","z":0.574,"u":0.797},{"p":12,"m":"E","z":0.5,"u":0.691},{"p":12,"m":"E","z":0.434,"u":0.594},{"p":12,"m":"E","z":0.364,"u":0.55},{"p":12,"m":"E","z":0.26,"u":0.532},{"p":12,"m":"E","z":0.19,"u":0.541},{"p":12,"m":"E","z":0.12,"u":0.576},{"p":12,"m":"E","z":0.05,"u":0.603},{"p":12,"m":"E","z":0,"u":0.608},{"p":12,"m":"E","z":-0.056,"u":0.603},{"p":12,"m":"E","z":-0.126,"u":0.585},{"p":12,"m":"E","z":-0.196,"u":0.576},{"p":12,"m":"E","z":-0.3,"u":0.585},{"p":12,"m":"E","z":-0.39,"u":0.62},{"p":12,"m":"E","z":-0.476,"u":0.726},{"p":12,"m":"E","z":-0.564,"u":0.868},{"p":12,"m":"E","z":-0.65,"u":0.956},{"p":12,"m":"E","z":-0.74,"u":0.991},{"p":12,"m":"E","z":-0.88,"u":1.0},
{"p":12,"m":"L","z":0.876,"u":1.0},{"p":12,"m":"L","z":0.75,"u":0.982},{"p":12,"m":"L","z":0.662,"u":0.912},{"p":12,"m":"L","z":0.574,"u":0.779},{"p":12,"m":"L","z":0.5,"u":0.665},{"p":12,"m":"L","z":0.434,"u":0.62},{"p":12,"m":"L","z":0.347,"u":0.603},{"p":12,"m":"L","z":0.224,"u":0.599},{"p":12,"m":"L","z":0.1,"u":0.606},{"p":12,"m":"L","z":0,"u":0.612},{"p":12,"m":"L","z":-0.126,"u":0.603},{"p":12,"m":"L","z":-0.214,"u":0.589},{"p":12,"m":"L","z":-0.3,"u":0.594},{"p":12,"m":"L","z":-0.39,"u":0.62},{"p":12,"m":"L","z":-0.476,"u":0.674},{"p":12,"m":"L","z":-0.564,"u":0.779},{"p":12,"m":"L","z":-0.65,"u":0.903},{"p":12,"m":"L","z":-0.74,"u":0.973},{"p":12,"m":"L","z":-0.88,"u":0.991},
{"p":12,"m":"S","z":0.876,"u":0.965},{"p":12,"m":"S","z":0.75,"u":0.938},{"p":12,"m":"S","z":0.662,"u":0.885},{"p":12,"m":"S","z":0.574,"u":0.797},{"p":12,"m":"S","z":0.487,"u":0.726},{"p":12,"m":"S","z":0.399,"u":0.7},{"p":12,"m":"S","z":0.26,"u":0.691},{"p":12,"m":"S","z":0.137,"u":0.7},{"p":12,"m":"S","z":0.05,"u":0.702},{"p":12,"m":"S","z":0,"u":0.709},{"p":12,"m":"S","z":-0.07,"u":0.702},{"p":12,"m":"S","z":-0.126,"u":0.7},{"p":12,"m":"S","z":-0.3,"u":0.691},{"p":12,"m":"S","z":-0.441,"u":0.718},{"p":12,"m":"S","z":-0.53,"u":0.762},{"p":12,"m":"S","z":-0.616,"u":0.832},{"p":12,"m":"S","z":-0.704,"u":0.903},{"p":12,"m":"S","z":-0.792,"u":0.956},{"p":12,"m":"S","z":-0.88,"u":0.991},
{"p":12,"m":"W","z":0.876,"u":1.0},{"p":12,"m":"W","z":0.75,"u":0.973},{"p":12,"m":"W","z":0.662,"u":0.903},{"p":12,"m":"W","z":0.574,"u":0.762},{"p":12,"m":"W","z":0.5,"u":0.62},{"p":12,"m":"W","z":0.434,"u":0.515},{"p":12,"m":"W","z":0.347,"u":0.462},{"p":12,"m":"W","z":0.26,"u":0.488},{"p":12,"m":"W","z":0.154,"u":0.55},{"p":12,"m":"W","z":0.067,"u":0.62},{"p":12,"m":"W","z":0.014,"u":0.682},{"p":12,"m":"W","z":-0.021,"u":0.674},{"p":12,"m":"W","z":-0.056,"u":0.612},{"p":12,"m":"W","z":-0.126,"u":0.568},{"p":12,"m":"W","z":-0.214,"u":0.515},{"p":12,"m":"W","z":-0.3,"u":0.47},{"p":12,"m":"W","z":-0.371,"u":0.47},{"p":12,"m":"W","z":-0.441,"u":0.55},{"p":12,"m":"W","z":-0.53,"u":0.691},{"p":12,"m":"W","z":-0.599,"u":0.797},{"p":12,"m":"W","z":-0.687,"u":0.92},{"p":12,"m":"W","z":-0.792,"u":0.991},{"p":12,"m":"W","z":-0.88,"u":1.009},
{"p":12,"m":"G","z":0.88,"u":1.009},{"p":12,"m":"G","z":0.8,"u":1.012},{"p":12,"m":"G","z":0.72,"u":0.991},{"p":12,"m":"G","z":0.68,"u":0.947},{"p":12,"m":"G","z":0.64,"u":0.868},{"p":12,"m":"G","z":0.6,"u":0.762},{"p":12,"m":"G","z":0.56,"u":0.656},{"p":12,"m":"G","z":0.52,"u":0.568},{"p":12,"m":"G","z":0.48,"u":0.506},{"p":12,"m":"G","z":0.44,"u":0.47},{"p":12,"m":"G","z":0.4,"u":0.462},{"p":12,"m":"G","z":0.35,"u":0.458},{"p":12,"m":"G","z":0.3,"u":0.479},{"p":12,"m":"G","z":0.25,"u":0.515},{"p":12,"m":"G","z":0.2,"u":0.541},{"p":12,"m":"G","z":0.15,"u":0.576},{"p":12,"m":"G","z":0.1,"u":0.599},{"p":12,"m":"G","z":0.05,"u":0.608},{"p":12,"m":"G","z":0,"u":0.608},{"p":12,"m":"G","z":-0.05,"u":0.603},{"p":12,"m":"G","z":-0.1,"u":0.585},{"p":12,"m":"G","z":-0.15,"u":0.55},{"p":12,"m":"G","z":-0.2,"u":0.515},{"p":12,"m":"G","z":-0.25,"u":0.479},{"p":12,"m":"G","z":-0.3,"u":0.462},{"p":12,"m":"G","z":-0.35,"u":0.453},{"p":12,"m":"G","z":-0.4,"u":0.47},{"p":12,"m":"G","z":-0.44,"u":0.497},{"p":12,"m":"G","z":-0.48,"u":0.559},{"p":12,"m":"G","z":-0.52,"u":0.638},{"p":12,"m":"G","z":-0.56,"u":0.726},{"p":12,"m":"G","z":-0.6,"u":0.815},{"p":12,"m":"G","z":-0.64,"u":0.894},{"p":12,"m":"G","z":-0.68,"u":0.956},{"p":12,"m":"G","z":-0.72,"u":0.991},{"p":12,"m":"G","z":-0.78,"u":1.009},{"p":12,"m":"G","z":-0.88,"u":1.012},
{"p":12,"m":"X","z":0.88,"u":1.009},{"p":12,"m":"X","z":0.72,"u":0.99},{"p":12,"m":"X","z":0.64,"u":0.872},{"p":12,"m":"X","z":0.56,"u":0.66},{"p":12,"m":"X","z":0.48,"u":0.512},{"p":12,"m":"X","z":0.4,"u":0.468},{"p":12,"m":"X","z":0.347,"u":0.47},{"p":12,"m":"X","z":0.19,"u":0.55},{"p":12,"m":"X","z":0.154,"u":0.568},{"p":12,"m":"X","z":0.05,"u":0.603},{"p":12,"m":"X","z":0,"u":0.612},{"p":12,"m":"X","z":-0.091,"u":0.594},{"p":12,"m":"X","z":-0.179,"u":0.541},{"p":12,"m":"X","z":-0.3,"u":0.478},{"p":12,"m":"X","z":-0.371,"u":0.462},{"p":12,"m":"X","z":-0.476,"u":0.55},{"p":12,"m":"X","z":-0.564,"u":0.709},{"p":12,"m":"X","z":-0.65,"u":0.868},{"p":12,"m":"X","z":-0.74,"u":0.973},{"p":12,"m":"X","z":-0.88,"u":1.009},

{"p":15,"m":"E","z":0.876,"u":0.991},{"p":15,"m":"E","z":0.75,"u":0.947},{"p":15,"m":"E","z":0.645,"u":0.92},{"p":15,"m":"E","z":0.574,"u":0.884},{"p":15,"m":"E","z":0.5,"u":0.831},{"p":15,"m":"E","z":0.417,"u":0.751},{"p":15,"m":"E","z":0.312,"u":0.706},{"p":15,"m":"E","z":0.137,"u":0.697},{"p":15,"m":"E","z":0,"u":0.694},{"p":15,"m":"E","z":-0.161,"u":0.697},{"p":15,"m":"E","z":-0.266,"u":0.724},{"p":15,"m":"E","z":-0.336,"u":0.769},{"p":15,"m":"E","z":-0.441,"u":0.84},{"p":15,"m":"E","z":-0.564,"u":0.92},{"p":15,"m":"E","z":-0.65,"u":0.955},{"p":15,"m":"E","z":-0.757,"u":0.991},{"p":15,"m":"E","z":-0.88,"u":1.0},
{"p":15,"m":"L","z":0.876,"u":0.982},{"p":15,"m":"L","z":0.75,"u":0.947},{"p":15,"m":"L","z":0.574,"u":0.866},{"p":15,"m":"L","z":0.4,"u":0.733},{"p":15,"m":"L","z":0.224,"u":0.715},{"p":15,"m":"L","z":0,"u":0.719},{"p":15,"m":"L","z":-0.214,"u":0.724},{"p":15,"m":"L","z":-0.39,"u":0.751},{"p":15,"m":"L","z":-0.564,"u":0.858},{"p":15,"m":"L","z":-0.687,"u":0.929},{"p":15,"m":"L","z":-0.827,"u":0.991},{"p":15,"m":"L","z":-0.88,"u":1.0},
{"p":15,"m":"S","z":0.876,"u":0.973},{"p":15,"m":"S","z":0.75,"u":0.938},{"p":15,"m":"S","z":0.574,"u":0.893},{"p":15,"m":"S","z":0.469,"u":0.822},{"p":15,"m":"S","z":0.399,"u":0.769},{"p":15,"m":"S","z":0.224,"u":0.765},{"p":15,"m":"S","z":0.049,"u":0.769},{"p":15,"m":"S","z":-0.021,"u":0.777},{"p":15,"m":"S","z":-0.126,"u":0.769},{"p":15,"m":"S","z":-0.3,"u":0.777},{"p":15,"m":"S","z":-0.476,"u":0.831},{"p":15,"m":"S","z":-0.616,"u":0.893},{"p":15,"m":"S","z":-0.74,"u":0.947},{"p":15,"m":"S","z":-0.88,"u":0.991},
{"p":15,"m":"W","z":0.876,"u":1.0},{"p":15,"m":"W","z":0.75,"u":1.0},{"p":15,"m":"W","z":0.715,"u":0.973},{"p":15,"m":"W","z":0.645,"u":0.92},{"p":15,"m":"W","z":0.574,"u":0.858},{"p":15,"m":"W","z":0.469,"u":0.769},{"p":15,"m":"W","z":0.347,"u":0.706},{"p":15,"m":"W","z":0.19,"u":0.635},{"p":15,"m":"W","z":0.1,"u":0.608},{"p":15,"m":"W","z":0,"u":0.6},{"p":15,"m":"W","z":-0.09,"u":0.608},{"p":15,"m":"W","z":-0.196,"u":0.653},{"p":15,"m":"W","z":-0.3,"u":0.68},{"p":15,"m":"W","z":-0.406,"u":0.706},{"p":15,"m":"W","z":-0.53,"u":0.769},{"p":15,"m":"W","z":-0.65,"u":0.875},{"p":15,"m":"W","z":-0.757,"u":0.947},{"p":15,"m":"W","z":-0.88,"u":0.991},
{"p":15,"m":"G","z":0.876,"u":0.991},{"p":15,"m":"G","z":0.8,"u":0.955},{"p":15,"m":"G","z":0.72,"u":0.911},{"p":15,"m":"G","z":0.64,"u":0.858},{"p":15,"m":"G","z":0.56,"u":0.804},{"p":15,"m":"G","z":0.5,"u":0.769},{"p":15,"m":"G","z":0.434,"u":0.724},{"p":15,"m":"G","z":0.347,"u":0.697},{"p":15,"m":"G","z":0.224,"u":0.694},{"p":15,"m":"G","z":0.1,"u":0.697},{"p":15,"m":"G","z":0,"u":0.706},{"p":15,"m":"G","z":-0.126,"u":0.688},{"p":15,"m":"G","z":-0.214,"u":0.676},{"p":15,"m":"G","z":-0.3,"u":0.671},{"p":15,"m":"G","z":-0.39,"u":0.697},{"p":15,"m":"G","z":-0.476,"u":0.742},{"p":15,"m":"G","z":-0.564,"u":0.804},{"p":15,"m":"G","z":-0.65,"u":0.875},{"p":15,"m":"G","z":-0.74,"u":0.947},{"p":15,"m":"G","z":-0.827,"u":0.991},{"p":15,"m":"G","z":-0.88,"u":1.009},
{"p":15,"m":"X","z":0.876,"u":0.991},{"p":15,"m":"X","z":0.8,"u":0.96},{"p":15,"m":"X","z":0.72,"u":0.92},{"p":15,"m":"X","z":0.64,"u":0.87},{"p":15,"m":"X","z":0.56,"u":0.82},{"p":15,"m":"X","z":0.5,"u":0.785},{"p":15,"m":"X","z":0.434,"u":0.745},{"p":15,"m":"X","z":0.347,"u":0.71},{"p":15,"m":"X","z":0.224,"u":0.697},{"p":15,"m":"X","z":0.1,"u":0.7},{"p":15,"m":"X","z":0,"u":0.705},{"p":15,"m":"X","z":-0.126,"u":0.7},{"p":15,"m":"X","z":-0.214,"u":0.69},{"p":15,"m":"X","z":-0.3,"u":0.69},{"p":15,"m":"X","z":-0.39,"u":0.71},{"p":15,"m":"X","z":-0.476,"u":0.75},{"p":15,"m":"X","z":-0.564,"u":0.82},{"p":15,"m":"X","z":-0.65,"u":0.89},{"p":15,"m":"X","z":-0.74,"u":0.95},{"p":15,"m":"X","z":-0.827,"u":0.99},{"p":15,"m":"X","z":-0.88,"u":1.0}
]},
"hconcat":[
 {"width":147,"height":336,"title":"x/D\u2002=\u20020","transform":[{"filter":"datum.p == 0"}],
  "layer":[
   {"mark":{"type":"line","strokeWidth":2.7,"interpolate":"catmull-rom"},
    "encoding":{
     "x":{"field":"u","type":"quantitative","scale":{"domain":[0.315,1.09],"nice":false,"zero":false},"axis":{"orient":"bottom","values":[0.4,0.7,1],"format":"~g","grid":true,"labelPadding":13,"title":"\u016b\u2093/U\u221e","titlePadding":11}},
     "y":{"field":"z","type":"quantitative","scale":{"domain":[-0.88,0.88],"nice":false,"zero":false},"axis":{"orient":"left","values":[-0.5,0,0.5],"format":"~g","grid":true,"title":"z/D","titlePadding":18}},
     "color":{"field":"m","type":"nominal","scale":{"domain":["E","L","S","W","G","X"],"range":["#0000ff","#ff0000","#ff8000","#bf0040","#00ff00","#00ff00"]},"legend":{"orient":"none","legendX":61,"legendY":-118,"direction":"horizontal","columns":6,"title":null,"symbolType":"stroke","symbolSize":2100,"symbolStrokeWidth":3,"labelOffset":6,"columnPadding":6,"padding":8,"strokeColor":"black","encode":{"legend":{"update":{"strokeWidth":{"value":2.5}}},"symbols":{"update":{"y":{"value":11}}},"labels":{"update":{"y":{"value":11}}}},"labelExpr":"datum.label == 'E' ? 'EllipSys3D' : datum.label == 'L' ? 'LESGO' : datum.label == 'S' ? 'SP-Wind' : datum.label == 'W' ? 'SOWFA' : datum.label == 'G' ? 'GRASP' : 'GRASP (xy)'"}},
     "strokeDash":{"field":"m","type":"nominal","scale":{"domain":["E","L","S","W","G","X"],"range":[[1,0],[1,0],[1,0],[1,0],[1,0],[7,5]]},"legend":{"orient":"none","legendX":61,"legendY":-118,"direction":"horizontal","columns":6,"title":null,"symbolType":"stroke","symbolSize":2100,"symbolStrokeWidth":3,"labelOffset":6,"columnPadding":6,"padding":8,"strokeColor":"black","encode":{"legend":{"update":{"strokeWidth":{"value":2.5}}},"symbols":{"update":{"y":{"value":11}}},"labels":{"update":{"y":{"value":11}}}},"labelExpr":"datum.label == 'E' ? 'EllipSys3D' : datum.label == 'L' ? 'LESGO' : datum.label == 'S' ? 'SP-Wind' : datum.label == 'W' ? 'SOWFA' : datum.label == 'G' ? 'GRASP' : 'GRASP (xy)'"}},
     "order":{"field":"z","type":"quantitative"}}},
   {"mark":{"type":"point","opacity":0},
    "encoding":{
     "x":{"field":"u","type":"quantitative","axis":{"orient":"top","values":[0.4,0.7,1],"grid":false,"labels":false,"title":null}},
     "y":{"field":"z","type":"quantitative","axis":{"orient":"right","values":[-0.5,0,0.5],"grid":false,"labels":false,"title":null}}}}
  ],
  "resolve":{"axis":{"x":"independent","y":"independent"}}},
 {"width":147,"height":336,"title":"x/D\u2002=\u20021","transform":[{"filter":"datum.p == 1"}],
  "layer":[
   {"mark":{"type":"line","strokeWidth":2.7,"interpolate":"catmull-rom"},
    "encoding":{
     "x":{"field":"u","type":"quantitative","scale":{"domain":[0.315,1.09],"nice":false,"zero":false},"axis":{"orient":"bottom","values":[0.4,0.7,1],"format":"~g","grid":true,"labelPadding":13,"title":"\u016b\u2093/U\u221e","titlePadding":11}},
     "y":{"field":"z","type":"quantitative","scale":{"domain":[-0.88,0.88],"nice":false,"zero":false},"axis":{"orient":"left","values":[-0.5,0,0.5],"grid":true,"labels":false,"title":null}},
     "color":{"field":"m","type":"nominal","scale":{"domain":["E","L","S","W","G","X"],"range":["#0000ff","#ff0000","#ff8000","#bf0040","#00ff00","#00ff00"]},"legend":null},
     "strokeDash":{"field":"m","type":"nominal","scale":{"domain":["E","L","S","W","G","X"],"range":[[1,0],[1,0],[1,0],[1,0],[1,0],[7,5]]},"legend":null},
     "order":{"field":"z","type":"quantitative"}}},
   {"mark":{"type":"point","opacity":0},
    "encoding":{
     "x":{"field":"u","type":"quantitative","axis":{"orient":"top","values":[0.4,0.7,1],"grid":false,"labels":false,"title":null}},
     "y":{"field":"z","type":"quantitative","axis":{"orient":"right","values":[-0.5,0,0.5],"grid":false,"labels":false,"title":null}}}}
  ],
  "resolve":{"axis":{"x":"independent","y":"independent"}}},
 {"width":147,"height":336,"title":"x/D\u2002=\u20023","transform":[{"filter":"datum.p == 3"}],
  "layer":[
   {"mark":{"type":"line","strokeWidth":2.7,"interpolate":"catmull-rom"},
    "encoding":{
     "x":{"field":"u","type":"quantitative","scale":{"domain":[0.315,1.09],"nice":false,"zero":false},"axis":{"orient":"bottom","values":[0.4,0.7,1],"format":"~g","grid":true,"labelPadding":13,"title":"\u016b\u2093/U\u221e","titlePadding":11}},
     "y":{"field":"z","type":"quantitative","scale":{"domain":[-0.88,0.88],"nice":false,"zero":false},"axis":{"orient":"left","values":[-0.5,0,0.5],"grid":true,"labels":false,"title":null}},
     "color":{"field":"m","type":"nominal","scale":{"domain":["E","L","S","W","G","X"],"range":["#0000ff","#ff0000","#ff8000","#bf0040","#00ff00","#00ff00"]},"legend":null},
     "strokeDash":{"field":"m","type":"nominal","scale":{"domain":["E","L","S","W","G","X"],"range":[[1,0],[1,0],[1,0],[1,0],[1,0],[7,5]]},"legend":null},
     "order":{"field":"z","type":"quantitative"}}},
   {"mark":{"type":"point","opacity":0},
    "encoding":{
     "x":{"field":"u","type":"quantitative","axis":{"orient":"top","values":[0.4,0.7,1],"grid":false,"labels":false,"title":null}},
     "y":{"field":"z","type":"quantitative","axis":{"orient":"right","values":[-0.5,0,0.5],"grid":false,"labels":false,"title":null}}}}
  ],
  "resolve":{"axis":{"x":"independent","y":"independent"}}},
 {"width":147,"height":336,"title":"x/D\u2002=\u20026","transform":[{"filter":"datum.p == 6"}],
  "layer":[
   {"mark":{"type":"line","strokeWidth":2.7,"interpolate":"catmull-rom"},
    "encoding":{
     "x":{"field":"u","type":"quantitative","scale":{"domain":[0.315,1.09],"nice":false,"zero":false},"axis":{"orient":"bottom","values":[0.4,0.7,1],"format":"~g","grid":true,"labelPadding":13,"title":"\u016b\u2093/U\u221e","titlePadding":11}},
     "y":{"field":"z","type":"quantitative","scale":{"domain":[-0.88,0.88],"nice":false,"zero":false},"axis":{"orient":"left","values":[-0.5,0,0.5],"grid":true,"labels":false,"title":null}},
     "color":{"field":"m","type":"nominal","scale":{"domain":["E","L","S","W","G","X"],"range":["#0000ff","#ff0000","#ff8000","#bf0040","#00ff00","#00ff00"]},"legend":null},
     "strokeDash":{"field":"m","type":"nominal","scale":{"domain":["E","L","S","W","G","X"],"range":[[1,0],[1,0],[1,0],[1,0],[1,0],[7,5]]},"legend":null},
     "order":{"field":"z","type":"quantitative"}}},
   {"mark":{"type":"point","opacity":0},
    "encoding":{
     "x":{"field":"u","type":"quantitative","axis":{"orient":"top","values":[0.4,0.7,1],"grid":false,"labels":false,"title":null}},
     "y":{"field":"z","type":"quantitative","axis":{"orient":"right","values":[-0.5,0,0.5],"grid":false,"labels":false,"title":null}}}}
  ],
  "resolve":{"axis":{"x":"independent","y":"independent"}}},
 {"width":147,"height":336,"title":"x/D\u2002=\u20029","transform":[{"filter":"datum.p == 9"}],
  "layer":[
   {"mark":{"type":"line","strokeWidth":2.7,"interpolate":"catmull-rom"},
    "encoding":{
     "x":{"field":"u","type":"quantitative","scale":{"domain":[0.315,1.09],"nice":false,"zero":false},"axis":{"orient":"bottom","values":[0.4,0.7,1],"format":"~g","grid":true,"labelPadding":13,"title":"\u016b\u2093/U\u221e","titlePadding":11}},
     "y":{"field":"z","type":"quantitative","scale":{"domain":[-0.88,0.88],"nice":false,"zero":false},"axis":{"orient":"left","values":[-0.5,0,0.5],"grid":true,"labels":false,"title":null}},
     "color":{"field":"m","type":"nominal","scale":{"domain":["E","L","S","W","G","X"],"range":["#0000ff","#ff0000","#ff8000","#bf0040","#00ff00","#00ff00"]},"legend":null},
     "strokeDash":{"field":"m","type":"nominal","scale":{"domain":["E","L","S","W","G","X"],"range":[[1,0],[1,0],[1,0],[1,0],[1,0],[7,5]]},"legend":null},
     "order":{"field":"z","type":"quantitative"}}},
   {"mark":{"type":"point","opacity":0},
    "encoding":{
     "x":{"field":"u","type":"quantitative","axis":{"orient":"top","values":[0.4,0.7,1],"grid":false,"labels":false,"title":null}},
     "y":{"field":"z","type":"quantitative","axis":{"orient":"right","values":[-0.5,0,0.5],"grid":false,"labels":false,"title":null}}}}
  ],
  "resolve":{"axis":{"x":"independent","y":"independent"}}},
 {"width":147,"height":336,"title":"x/D\u2002=\u200212","transform":[{"filter":"datum.p == 12"}],
  "layer":[
   {"mark":{"type":"line","strokeWidth":2.7,"interpolate":"catmull-rom"},
    "encoding":{
     "x":{"field":"u","type":"quantitative","scale":{"domain":[0.315,1.09],"nice":false,"zero":false},"axis":{"orient":"bottom","values":[0.4,0.7,1],"format":"~g","grid":true,"labelPadding":13,"title":"\u016b\u2093/U\u221e","titlePadding":11}},
     "y":{"field":"z","type":"quantitative","scale":{"domain":[-0.88,0.88],"nice":false,"zero":false},"axis":{"orient":"left","values":[-0.5,0,0.5],"grid":true,"labels":false,"title":null}},
     "color":{"field":"m","type":"nominal","scale":{"domain":["E","L","S","W","G","X"],"range":["#0000ff","#ff0000","#ff8000","#bf0040","#00ff00","#00ff00"]},"legend":null},
     "strokeDash":{"field":"m","type":"nominal","scale":{"domain":["E","L","S","W","G","X"],"range":[[1,0],[1,0],[1,0],[1,0],[1,0],[7,5]]},"legend":null},
     "order":{"field":"z","type":"quantitative"}}},
   {"mark":{"type":"point","opacity":0},
    "encoding":{
     "x":{"field":"u","type":"quantitative","axis":{"orient":"top","values":[0.4,0.7,1],"grid":false,"labels":false,"title":null}},
     "y":{"field":"z","type":"quantitative","axis":{"orient":"right","values":[-0.5,0,0.5],"grid":false,"labels":false,"title":null}}}}
  ],
  "resolve":{"axis":{"x":"independent","y":"independent"}}},
 {"width":147,"height":336,"title":"x/D\u2002=\u200215","transform":[{"filter":"datum.p == 15"}],
  "layer":[
   {"mark":{"type":"line","strokeWidth":2.7,"interpolate":"catmull-rom"},
    "encoding":{
     "x":{"field":"u","type":"quantitative","scale":{"domain":[0.315,1.09],"nice":false,"zero":false},"axis":{"orient":"bottom","values":[0.4,0.7,1],"format":"~g","grid":true,"labelPadding":13,"title":"\u016b\u2093/U\u221e","titlePadding":11}},
     "y":{"field":"z","type":"quantitative","scale":{"domain":[-0.88,0.88],"nice":false,"zero":false},"axis":{"orient":"left","values":[-0.5,0,0.5],"grid":true,"labels":false,"title":null}},
     "color":{"field":"m","type":"nominal","scale":{"domain":["E","L","S","W","G","X"],"range":["#0000ff","#ff0000","#ff8000","#bf0040","#00ff00","#00ff00"]},"legend":null},
     "strokeDash":{"field":"m","type":"nominal","scale":{"domain":["E","L","S","W","G","X"],"range":[[1,0],[1,0],[1,0],[1,0],[1,0],[7,5]]},"legend":null},
     "order":{"field":"z","type":"quantitative"}}},
   {"mark":{"type":"point","opacity":0},
    "encoding":{
     "x":{"field":"u","type":"quantitative","axis":{"orient":"top","values":[0.4,0.7,1],"grid":false,"labels":false,"title":null}},
     "y":{"field":"z","type":"quantitative","axis":{"orient":"right","values":[-0.5,0,0.5],"grid":false,"labels":false,"title":null}}}}
  ],
  "resolve":{"axis":{"x":"independent","y":"independent"}}}
]
}
